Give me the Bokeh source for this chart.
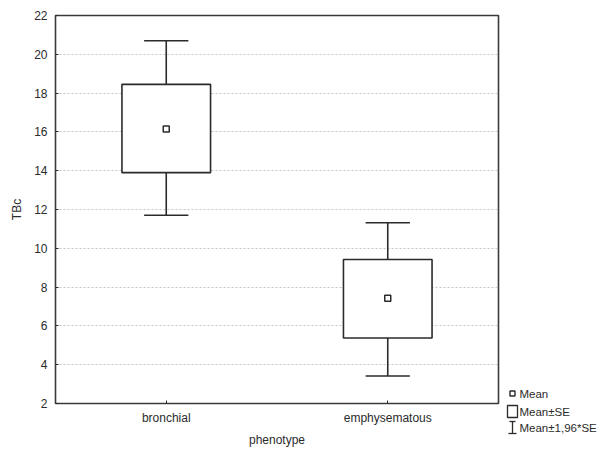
from bokeh.plotting import figure
from bokeh.models import Range1d, ColumnDataSource, FixedTicker
from bokeh.core.properties import value
from bokeh.embed import file_html
from bokeh.resources import INLINE

# ---- data ----
categories = ["bronchial", "emphysematous"]
mean = [16.15, 7.42]
se_low = [13.9, 5.38]
se_high = [18.45, 9.42]
ci_low = [11.7, 3.42]
ci_high = [20.7, 11.32]
y_ticks = [2, 4, 6, 8, 10, 12, 14, 16, 18, 20, 22]
legend_labels = ["Mean", "Mean\u00b1SE", "Mean\u00b11,96*SE"]

FONT = "Liberation Sans"
INK = "#2b2b2b"

W, H = 599, 449
FL, FR, FT, FB = 55, 498, 15, 403   # frame edges on the canvas

# category slots: each category occupies one unit, centred at i + 0.5
xpos = [i + 0.5 for i in range(len(categories))]
BOX_W = 0.4
CAP_HALF = 0.1

src = ColumnDataSource(dict(x=xpos, mean=mean, se_low=se_low, se_high=se_high,
                            ci_low=ci_low, ci_high=ci_high,
                            cap0=[v - CAP_HALF for v in xpos], cap1=[v + CAP_HALF for v in xpos]))

p = figure(width=W, height=H, x_range=Range1d(0, len(categories)),
           y_range=Range1d(2, 22), output_backend="svg", toolbar_location=None,
           min_border_left=FL, min_border_right=W - FR, min_border_top=FT, min_border_bottom=H - FB)
p.background_fill_color = "white"
p.border_fill_color = "white"
p.outline_line_color = "#3a3a3a"
p.outline_line_width = 1.6

p.xgrid.grid_line_color = None
p.ygrid.grid_line_color = "#c4c4c4"
p.ygrid.grid_line_dash = "2 2"
p.ygrid.grid_line_width = 1

p.yaxis.ticker = FixedTicker(ticks=y_ticks)
p.xaxis.ticker = FixedTicker(ticks=xpos)
p.xaxis.major_label_overrides = {v: c for v, c in zip(xpos, categories)}
for ax in (p.xaxis[0], p.yaxis[0]):
    ax.axis_line_color = None
    ax.major_tick_in = 3
    ax.major_tick_out = 0
    ax.major_tick_line_color = INK
    ax.minor_tick_line_color = None
    ax.major_label_text_font = FONT
    ax.major_label_text_font_size = "12px"
    ax.major_label_text_color = INK
    ax.axis_label_text_font = FONT
    ax.axis_label_text_font_size = "12px"
    ax.axis_label_text_font_style = "normal"
    ax.axis_label_text_color = INK

p.yaxis.axis_label = "TBc"
p.yaxis.major_label_standoff = 8
p.yaxis.axis_label_standoff = 7
p.xaxis.axis_label = "phenotype"
p.xaxis.major_label_standoff = 7
p.xaxis.axis_label_standoff = 5

LW = 1.6
# whisker stems
p.segment(x0="x", y0="ci_low", x1="x", y1="se_low", source=src, line_color=INK, line_width=LW)
p.segment(x0="x", y0="se_high", x1="x", y1="ci_high", source=src, line_color=INK, line_width=LW)
# caps
p.segment(x0="cap0", y0="ci_low", x1="cap1", y1="ci_low", source=src, line_color=INK, line_width=LW)
p.segment(x0="cap0", y0="ci_high", x1="cap1", y1="ci_high", source=src, line_color=INK, line_width=LW)
# SE boxes
p.vbar(x="x", bottom="se_low", top="se_high", width=BOX_W, source=src,
       fill_color="white", line_color=INK, line_width=LW)
# means
p.scatter(x="x", y="mean", source=src, marker="square", size=6,
          fill_color="white", line_color=INK, line_width=1.5)

# ---- legend (drawn outside the frame, in canvas-pixel ranges, not clipped) ----
p.extra_x_ranges = {"px": Range1d(FL, FR)}
p.extra_y_ranges = {"py": Range1d(FB, FT)}
icon_x = 512
text_x = 519
rows_y = [393, 411, 427]
kw = dict(x_range_name="px", y_range_name="py", level="overlay")

p.rect(x=[icon_x], y=[rows_y[0]], width=5, height=5,
       fill_color="white", line_color=INK, line_width=1.4, **kw)
p.rect(x=[icon_x], y=[rows_y[1]], width=10, height=12,
       fill_color="white", line_color=INK, line_width=1.3, **kw)
p.segment(x0=[icon_x, icon_x - 3, icon_x - 4], y0=[rows_y[2] - 6, rows_y[2] - 6, rows_y[2] + 6],
          x1=[icon_x, icon_x + 3, icon_x + 4], y1=[rows_y[2] + 6, rows_y[2] - 6, rows_y[2] + 6],
          line_color=INK, line_width=1.3, **kw)
p.text(x=[text_x] * 3, y=rows_y, text=legend_labels, text_font=value(FONT),
       text_font_size="11.5px", text_color=INK, text_baseline="middle", text_align="left", **kw)

open("out.html", "w").write(file_html(p, INLINE))
